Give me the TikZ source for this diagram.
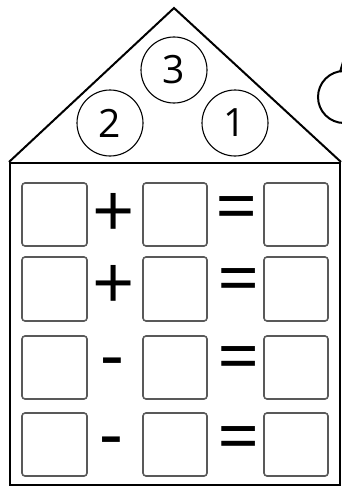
\documentclass[tikz,border=0pt]{standalone}
\usepackage{fontspec}
\setmainfont{Open Sans}
\begin{document}
\begin{tikzpicture}[x=1pt,y=-1pt,
  roofline/.style={line width=2pt,line join=miter},
  wall/.style={line width=2.6pt},
  ball/.style={circle,draw,line width=1.1pt,minimum size=66pt,inner sep=0pt,font=\fontsize{39}{39}\selectfont},
  slot/.style={draw=black!65,line width=1.6pt,rounded corners=3pt},
  sym/.style={inner sep=0pt,font=\fontsize{74}{74}\selectfont}]
\useasboundingbox (0,0) rectangle (342,487);
\clip (0,0) rectangle (342,487);
% roof
\coordinate (apex) at (174,8);
\coordinate (bl) at (9,162);
\coordinate (br) at (341,162);
\draw[roofline] (bl) -- (apex) -- (br);
% body
\draw[wall] (10,163) rectangle (340,485);
% circles
\node[ball] (c3) at (174,70) {3};
\node[ball] (c2) at (110,123) {2};
\node[ball] (c1) at (235,123) {1};
% cloud fragment
\draw[line width=2pt] (344,97) circle (26);
\draw[line width=2pt] (340,72) -- (343,62);
% boxes
\foreach \r/\ya/\yb in {1/183/246,2/257/321,3/336/399,4/413/476}{
  \draw[slot] (22,\ya) rectangle (87,\yb);
  \draw[slot] (143,\ya) rectangle (207,\yb);
  \draw[slot] (264,\ya) rectangle (328,\yb);
}
% symbols
\node[sym] (p1) at (114,215) {+};
\node[sym] (p2) at (114,287) {+};
\node[sym] (m3) at (112.5,369) {-};
\node[sym] (m4) at (111,448) {-};
\node[sym] (e1) at (236.5,214.5) {=};
\node[sym] (e2) at (239,286.5) {=};
\node[sym] (e3) at (239,364.5) {=};
\node[sym] (e4) at (239,444.5) {=};
\end{tikzpicture}
\end{document}
